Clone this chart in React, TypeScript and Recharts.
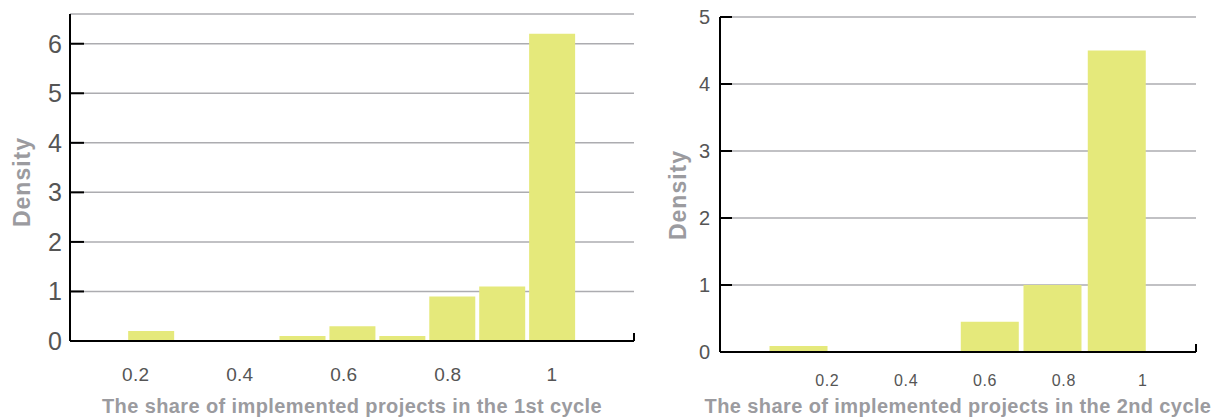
import React from "react";
import { BarChart, Bar, XAxis, YAxis, CartesianGrid, ReferenceLine, Label } from "recharts";

// 1st cycle histogram (bin centre -> density)
const bins1 = [0.229, 0.325, 0.42, 0.52, 0.616, 0.712, 0.808, 0.904, 1.0];
const density1 = [0.2, 0, 0, 0.1, 0.3, 0.1, 0.9, 1.1, 6.2];

// 2nd cycle histogram
const bins2 = [0.128, 0.29, 0.45, 0.613, 0.772, 0.935];
const density2 = [0.09, 0, 0, 0.45, 1.0, 4.5];

const xTicks = [0.2, 0.4, 0.6, 0.8, 1];
const yTicks1 = [0, 1, 2, 3, 4, 5, 6];
const yTicks2 = [0, 1, 2, 3, 4, 5];

const FONT = '"Liberation Sans", Arial, Helvetica, sans-serif';
const BAR = "#e5e97b";
const GRID = "#acacb0";
const TICK_TEXT = "#555";
const TITLE = "#9b9b9f";

const rows1 = bins1.map((x, i) => ({ x, density: density1[i] }));
const rows2 = bins2.map((x, i) => ({ x, density: density2[i] }));

function YTick(props: any) {
  const { x, y, payload, gap, len, size } = props;
  return (
    <g>
      <line x1={x + gap} x2={x + gap + len} y1={y} y2={y} stroke="#000" strokeWidth={2} />
      <text x={x} y={y} textAnchor="end" dominantBaseline="central" fill={TICK_TEXT} fontSize={size} fontFamily={FONT}>
        {payload.value}
      </text>
    </g>
  );
}

function XTick(props: any) {
  const { x, y, payload, size, spacing } = props;
  return (
    <text
      x={x}
      y={y + size * 0.72}
      textAnchor="middle"
      fill={TICK_TEXT}
      fontSize={size}
      letterSpacing={spacing}
      fontFamily={FONT}
    >
      {payload.value}
    </text>
  );
}

function yTitle(cx: number, cy: number) {
  return () => (
    <text
      x={cx}
      y={cy}
      transform={`rotate(-90 ${cx} ${cy})`}
      textAnchor="middle"
      dominantBaseline="central"
      fill={TITLE}
      fontSize={23}
      fontWeight="bold"
      letterSpacing={1}
      fontFamily={FONT}
    >
      Density
    </text>
  );
}

function Histogram({
  data,
  width,
  margin,
  xDomain,
  yDomain,
  yTicks,
  xAxisHeight,
  xTickSize,
  xTickSpacing,
  xTickMargin,
  yTickSize,
  yGap,
  yLen,
  capHeight,
  title,
  titleX,
  titleY,
  barSize,
}: any) {
  return (
    <BarChart width={width} height={418} data={data} margin={margin} barSize={barSize}>
      <CartesianGrid vertical={false} stroke={GRID} strokeWidth={1.5} />
      <XAxis
        dataKey="x"
        type="number"
        domain={xDomain}
        ticks={xTicks}
        allowDataOverflow
        height={xAxisHeight}
        axisLine={{ stroke: "#000", strokeWidth: 2 }}
        tickLine={false}
        tickSize={0}
        tickMargin={xTickMargin}
        tick={(p: any) => <XTick {...p} size={xTickSize} spacing={xTickSpacing} />}
      >
        <Label
          value={title}
          position="insideBottom"
          offset={5}
          fill={TITLE}
          fontSize={20}
          fontWeight="bold"
          letterSpacing={0.4}
          fontFamily={FONT}
        />
      </XAxis>
      <YAxis
        type="number"
        domain={yDomain}
        ticks={yTicks}
        allowDataOverflow
        width={70}
        axisLine={{ stroke: "#000", strokeWidth: 2 }}
        tickLine={false}
        tickSize={0}
        tickMargin={yGap}
        tick={(p: any) => <YTick {...p} gap={yGap} len={yLen} size={yTickSize} />}
        label={{ position: "insideLeft", content: yTitle(titleX, titleY) }}
      />
      <Bar dataKey="density" fill={BAR} isAnimationActive={false} />
      <ReferenceLine
        segment={[
          { x: xDomain[1], y: 0 },
          { x: xDomain[1], y: capHeight },
        ]}
        stroke="#000"
        strokeWidth={2}
      />
    </BarChart>
  );
}

export default function App() {
  return (
    <div style={{ position: "absolute", left: 0, top: 0, width: 1217, height: 418, display: "flex", background: "#fff" }}>
      <Histogram
        data={rows1}
        width={650}
        margin={{ top: 14, right: 16, bottom: 0, left: 0 }}
        xDomain={[0.0735, 1.158]}
        yDomain={[0, 6.6]}
        yTicks={yTicks1}
        xAxisHeight={77}
        xTickSize={19}
        xTickSpacing={0.3}
        xTickMargin={26}
        yTickSize={25}
        yGap={8}
        yLen={14}
        capHeight={0.16}
        title="The share of implemented projects in the 1st cycle"
        titleX={22}
        titleY={182}
        barSize={46}
      />
      <Histogram
        data={rows2}
        width={567}
        margin={{ top: 17, right: 21, bottom: 0, left: 0 }}
        xDomain={[-0.072, 1.135]}
        yDomain={[0, 5]}
        yTicks={yTicks2}
        xAxisHeight={66}
        xTickSize={16}
        xTickSpacing={0.6}
        xTickMargin={22}
        yTickSize={20}
        yGap={10}
        yLen={12}
        capHeight={0.12}
        title="The share of implemented projects in the 2nd cycle"
        titleX={28}
        titleY={195}
        barSize={58}
      />
    </div>
  );
}
